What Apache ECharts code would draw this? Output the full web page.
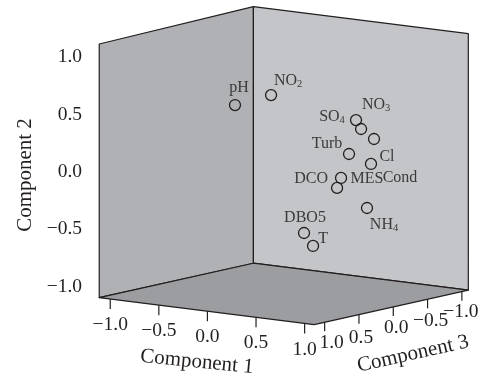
<!DOCTYPE html>
<html>
<head>
<meta charset="utf-8">
<style>html,body{margin:0;padding:0;background:#fff}#c{width:482px;height:376px}</style>
<script src="https://cdn.jsdelivr.net/npm/echarts@6/dist/echarts.min.js"></script>
</head>
<body>
<div id="c"></div>
<script>
// Loading values, in the viewing plane of the 3D box
const variableNames = ['pH','NO2','SO4','NO3','Cl','Turb','Cond','MES','DCO','NH4','DBO5','T'];
const planeX = [-0.489,-0.118,0.756,0.808,0.941,0.684,0.910,0.602,0.561,0.869,0.221,0.314];
const planeY = [0.584,0.671,0.453,0.375,0.288,0.157,0.070,-0.052,-0.139,-0.314,-0.532,-0.645];
const tickValues = [-1,-0.5,0,0.5,1];
const axisNames = ['Component 1','Component 2','Component 3'];
// Extent of the box on each component
const c1Range = [-1.113,1.098];
const c2Range = [-1.096,1.116];
const c3Range = [-1.094,1.153];

// Layout and style
const FONT = '"Liberation Serif", serif';
const INK = '#231f20';
const labelOffsets = {pH:[4,-17],NO2:[17,-14],SO4:[-24,-3],NO3:[15,-24],Cl:[13,18],Turb:[-22,-10],Cond:[29,14],MES:[26,1],DCO:[-26,-9],NH4:[17,17],DBO5:[1,-15],T:[10,-7]};
const subs = {NO2:'NO{s|2}',SO4:'SO{s|4}',NO3:'NO{s|3}',NH4:'NH{s|4}'};
const c3LabelNudge = {'-1':[-1,20],'-0.5':[3,22],'0':[3,21],'0.5':[2,23],'1':[7,21]};

// Oblique projection (with a slight depth scaling) of the box into the 2D grid plane
const project = (c1,c2,c3) => [
  c1 - 0.7058*c3 + 0.0412,
  c2*(1 + 0.0053*(c3Range[1]-c3)) - 0.1064*c1 - 0.1395*c3 + 0.0425
];
const [a0,a1] = c1Range, [b0,b1] = c2Range, [d0,d1] = c3Range;
const faces = [
  {fill:'#b0b1b4',pts:[[a0,b0,d1],[a0,b1,d1],[a0,b1,d0],[a0,b0,d0]]},
  {fill:'#c4c5c8',pts:[[a0,b0,d0],[a0,b1,d0],[a1,b1,d0],[a1,b0,d0]]},
  {fill:'#9c9da0',pts:[[a0,b0,d1],[a0,b0,d0],[a1,b0,d0],[a1,b0,d1]]}
];

function renderBox(params, api){
  const at = c => api.coord(project(c[0],c[1],c[2]));
  const children = [];
  const stroke = {stroke:INK,lineWidth:1.2,lineJoin:'round'};
  faces.forEach(f => children.push({type:'polygon',shape:{points:f.pts.map(at)},style:{fill:f.fill,...stroke}}));
  const text = (t,x,y,size,rotation=0) => ({type:'text',x,y,rotation,style:{text:t,font:size+'px '+FONT,fill:INK,align:'center',verticalAlign:'middle'}});
  const fmt = v => v.toFixed(1).replace('-','\u2212');
  tickValues.forEach(v => {
    const a = at([v,b0,d1]);
    children.push({type:'line',shape:{x1:a[0],y1:a[1],x2:a[0],y2:a[1]+10},style:stroke});
    children.push(text(fmt(v),a[0],a[1]+26,19.5));
    const b = at([a1,b0,v]);
    const n = c3LabelNudge[String(v)];
    children.push({type:'line',shape:{x1:b[0],y1:b[1],x2:b[0],y2:b[1]+9},style:stroke});
    children.push(text(fmt(v),b[0]+n[0],b[1]+n[1],19.5));
  });
  children.push(text(axisNames[0],197,362,21,-0.1));
  children.push(text(axisNames[2],413,354,21,0.22));
  return {type:'group',children};
}

const chart = echarts.init(document.getElementById('c'),null,{renderer:'canvas'});
chart.setOption({
  animation:false,
  backgroundColor:'#fff',
  grid:{left:99,right:14,top:0,height:344},
  xAxis:{type:'value',min:-1.888,max:1.908,show:false},
  yAxis:{
    type:'value',min:-1.5,max:1.5,interval:0.5,
    name:axisNames[1],nameLocation:'middle',nameGap:62,nameRotate:90,
    nameTextStyle:{fontFamily:'Liberation Serif',fontSize:21,color:INK,padding:[0,6,0,0]},
    axisLine:{show:false},splitLine:{show:false},
    axisTick:{show:true,length:9,customValues:tickValues,lineStyle:{color:INK,width:1.2}},
    axisLabel:{show:true,margin:17,customValues:tickValues,fontFamily:'Liberation Serif',fontSize:19.5,color:INK,padding:[3,0,0,0],
      formatter:v=>v.toFixed(1).replace('-','\u2212')}
  },
  series:[
    {type:'custom',coordinateSystem:'cartesian2d',clip:false,silent:true,z:1,
     data:[[0,0]],renderItem:renderBox},
    {type:'scatter',z:3,symbol:'circle',symbolSize:11,clip:false,
     itemStyle:{color:'rgba(0,0,0,0)',borderColor:INK,borderWidth:1.3,opacity:1},
     data:variableNames.map((n,i)=>({
       name:n,value:[planeX[i],planeY[i]],
       label:{show:true,position:'inside',align:'center',verticalAlign:'middle',offset:labelOffsets[n],
         formatter:subs[n]||n,fontFamily:'Liberation Serif',fontSize:16,color:'#3a3a3c',
         rich:{s:{fontFamily:'Liberation Serif',fontSize:10.5,color:'#3a3a3c',verticalAlign:'bottom',padding:[7,0,0,0]}}}
     }))}
  ]
});
</script>
</body>
</html>
